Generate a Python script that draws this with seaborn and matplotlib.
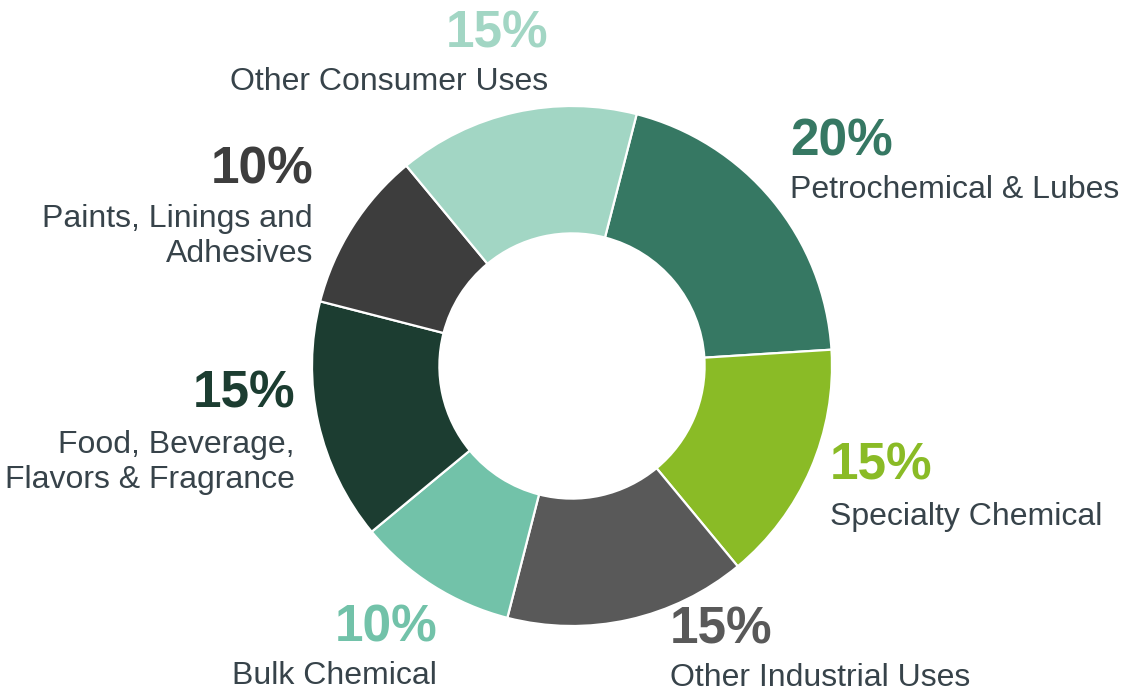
import matplotlib
matplotlib.use("Agg")
import matplotlib.pyplot as plt
import seaborn as sns

# ---- data ----
categories = ["Petrochemical & Lubes", "Specialty Chemical", "Other Industrial Uses",
              "Bulk Chemical", "Food, Beverage,\nFlavors & Fragrance",
              "Paints, Linings and\nAdhesives", "Other Consumer Uses"]
shares = [20, 15, 15, 10, 15, 10, 15]
pct_labels = ["20%", "15%", "15%", "10%", "15%", "10%", "15%"]
colors = ["#367863", "#8ABB26", "#595959", "#72C2A9", "#1C3D31", "#3D3D3D", "#A2D6C4"]

sns.set_theme(style="white")
plt.rcParams['font.family'] = ['Liberation Sans', 'DejaVu Sans']

W, H = 1128, 692
fig = plt.figure(figsize=(W / 100, H / 100), dpi=100)

cx, cy, r = 572, 366, 260
pad = 1.02
ax = fig.add_axes([(cx - r * pad) / W, (H - cy - r * pad) / H, 2 * r * pad / W, 2 * r * pad / H])
palette = sns.color_palette(colors)
ax.pie(shares, colors=palette, startangle=75.6, counterclock=False,
       wedgeprops=dict(width=0.49, edgecolor="white", linewidth=1.6))
ax.set_xlim(-pad, pad)
ax.set_ylim(-pad, pad)
ax.set_aspect("equal")
ax.axis("off")

label_color = "#37434A"
# (x, baseline of percent, baseline of last label line, ha) in pixels from top-left
layout = [
    (790, 156, 198, "left"),
    (830, 480, 525, "left"),
    (670, 644, 686, "left"),
    (437, 642, 684, "right"),
    (295, 408, 488, "right"),
    (313, 183, 262, "right"),
    (548, 47, 90, "right"),
]
for (x, yp, yl, ha), pct, lab, col in zip(layout, pct_labels, categories, colors):
    fig.text(x / W, 1 - yp / H, pct, ha=ha, va="baseline", fontsize=37,
             fontweight="bold", color=col)
    fig.text(x / W, 1 - yl / H, lab, ha=ha, va="baseline", fontsize=23,
             color=label_color, linespacing=1.2, multialignment=ha)

fig.savefig("out.png", dpi=100, facecolor="white")
